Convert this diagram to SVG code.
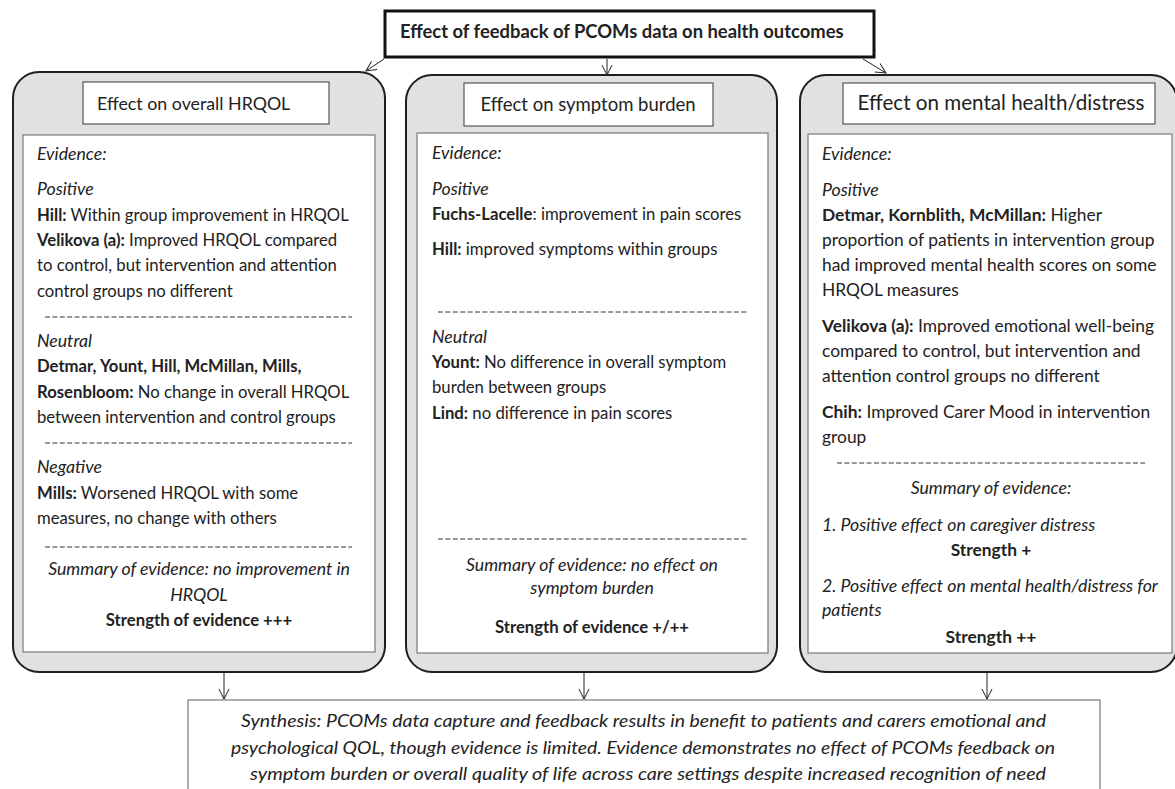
<svg xmlns="http://www.w3.org/2000/svg" width="1175" height="789" viewBox="0 0 1175 789">
<style>
text{font-family:Lato,"Liberation Sans",sans-serif;font-size:16.7px;fill:#222}
.p3 text{font-size:17.4px}
.i{font-style:italic;font-size:17.7px}
.p3 .i{font-size:17.7px}
.b{font-weight:bold}
.c{text-anchor:middle}
.panel{fill:#e0e1e2;stroke:#1e1e1e;stroke-width:2}
.inner{fill:#fff;stroke:#7a7a7a;stroke-width:1.2}
.head{fill:#fff;stroke:#555;stroke-width:1.2}
.dash{stroke:#333;stroke-width:1;stroke-dasharray:5 2.4}
.con{stroke:#222;stroke-width:1;fill:none}
</style>
<defs>
<marker id="arr" markerUnits="userSpaceOnUse" markerWidth="12" markerHeight="12" viewBox="0 0 12 12" refX="11" refY="6" orient="auto">
<path d="M1,1 L11,6 L1,11" fill="none" stroke="#222" stroke-width="1"/>
</marker>
</defs>
<rect width="1175" height="789" fill="#fff"/>

<g id="title">
<rect x="385" y="11" width="489" height="46" fill="#fff" stroke="#111" stroke-width="3"/>
<text x="400" y="38" class="b" style="font-size:18.4px">Effect of feedback of PCOMs data on health outcomes</text>
</g>

<g id="panel-hrqol">
<rect class="panel" x="13" y="72" width="372" height="600" rx="26"/>
<rect class="head" x="83" y="82" width="246" height="42"/>
<text x="97" y="110" style="font-size:17.8px">Effect on overall HRQOL</text>
<rect class="inner" x="23" y="135" width="352" height="517"/>
<text x="37" y="160" class="i">Evidence:</text>
<text x="37" y="195" class="i">Positive</text>
<text x="37" y="221"><tspan class="b">Hill:</tspan> Within group improvement in HRQOL</text>
<text x="37" y="246"><tspan class="b">Velikova (a):</tspan> Improved HRQOL compared</text>
<text x="37" y="271">to control, but intervention and attention</text>
<text x="37" y="297">control groups no different</text>
<line class="dash" x1="45" y1="317" x2="352" y2="317"/>
<text x="37" y="347" class="i">Neutral</text>
<text x="37" y="372" class="b">Detmar, Yount, Hill, McMillan, Mills,</text>
<text x="37" y="398"><tspan class="b">Rosenbloom:</tspan> No change in overall HRQOL</text>
<text x="37" y="423">between intervention and control groups</text>
<line class="dash" x1="45" y1="443" x2="352" y2="443"/>
<text x="37" y="473" class="i">Negative</text>
<text x="37" y="499"><tspan class="b">Mills:</tspan> Worsened HRQOL with some</text>
<text x="37" y="524">measures, no change with others</text>
<line class="dash" x1="45" y1="547" x2="352" y2="547"/>
<text x="199" y="575" class="i c">Summary of evidence: no improvement in</text>
<text x="199" y="601" class="i c">HRQOL</text>
<text x="199" y="626" class="b c">Strength of evidence +++</text>
</g>

<g id="panel-symptom">
<rect class="panel" x="406" y="75" width="371" height="597" rx="26"/>
<rect class="head" x="464" y="83" width="249" height="43"/>
<text x="588" y="111" class="c" style="font-size:18.5px">Effect on symptom burden</text>
<rect class="inner" x="417" y="133" width="351" height="520"/>
<text x="432" y="159" class="i">Evidence:</text>
<text x="432" y="195" class="i">Positive</text>
<text x="432" y="220"><tspan class="b">Fuchs-Lacelle</tspan>: improvement in pain scores</text>
<text x="432" y="255"><tspan class="b">Hill:</tspan> improved symptoms within groups</text>
<line class="dash" x1="438" y1="312" x2="747" y2="312"/>
<text x="432" y="343" class="i">Neutral</text>
<text x="432" y="368"><tspan class="b">Yount:</tspan> No difference in overall symptom</text>
<text x="432" y="393">burden between groups</text>
<text x="432" y="419"><tspan class="b">Lind:</tspan> no difference in pain scores</text>
<line class="dash" x1="438" y1="539" x2="747" y2="539"/>
<text x="592" y="571" class="i c">Summary of evidence: no effect on</text>
<text x="592" y="594" class="i c">symptom burden</text>
<text x="592" y="633" class="b c">Strength of evidence +/++</text>
</g>

<g id="panel-mental" class="p3">
<rect class="panel" x="800" y="75" width="377" height="597" rx="26"/>
<rect class="head" x="843" y="83" width="312" height="41"/>
<text x="1001" y="110" class="c" style="font-size:20.6px">Effect on mental health/distress</text>
<rect class="inner" x="808" y="134" width="364" height="519"/>
<text x="822" y="160" class="i">Evidence:</text>
<text x="822" y="196" class="i">Positive</text>
<text x="822" y="221"><tspan class="b">Detmar, Kornblith, McMillan:</tspan> Higher</text>
<text x="822" y="246">proportion of patients in intervention group</text>
<text x="822" y="271">had improved mental health scores on some</text>
<text x="822" y="296">HRQOL measures</text>
<text x="822" y="332"><tspan class="b">Velikova (a):</tspan> Improved emotional well-being</text>
<text x="822" y="357">compared to control, but intervention and</text>
<text x="822" y="382">attention control groups no different</text>
<text x="822" y="418"><tspan class="b">Chih:</tspan> Improved Carer Mood in intervention</text>
<text x="822" y="443">group</text>
<line class="dash" x1="837" y1="463" x2="1145" y2="463"/>
<text x="991" y="494" class="i c">Summary of evidence:</text>
<text x="822" y="531" class="i">1. Positive effect on caregiver distress</text>
<text x="991" y="556" class="b c">Strength +</text>
<text x="822" y="592" class="i">2. Positive effect on mental health/distress for</text>
<text x="822" y="616" class="i">patients</text>
<text x="991" y="643" class="b c">Strength ++</text>
</g>

<g id="synthesis">
<rect x="188" y="700" width="912" height="110" fill="#fff" stroke="#777" stroke-width="1.2"/>
<text x="241" y="727" class="i" style="font-size:17.5px" textLength="805" lengthAdjust="spacingAndGlyphs">Synthesis: PCOMs data capture and feedback results in benefit to patients and carers emotional and</text>
<text x="231" y="754" class="i" style="font-size:17.5px" textLength="824" lengthAdjust="spacingAndGlyphs">psychological QOL, though evidence is limited. Evidence demonstrates no effect of PCOMs feedback on</text>
<text x="250" y="780" class="i" style="font-size:17.5px" textLength="796" lengthAdjust="spacingAndGlyphs">symptom burden or overall quality of life across care settings despite increased recognition of need</text>
</g>

<g id="connectors">
<line class="con" x1="384" y1="59" x2="366" y2="71" marker-end="url(#arr)"/>
<line class="con" x1="607" y1="59" x2="607" y2="75" marker-end="url(#arr)"/>
<line class="con" x1="863" y1="59" x2="886" y2="73" marker-end="url(#arr)"/>
<line class="con" x1="224" y1="673" x2="224" y2="699" marker-end="url(#arr)"/>
<line class="con" x1="584" y1="673" x2="584" y2="699" marker-end="url(#arr)"/>
<line class="con" x1="987" y1="673" x2="987" y2="699" marker-end="url(#arr)"/>
</g>
</svg>
